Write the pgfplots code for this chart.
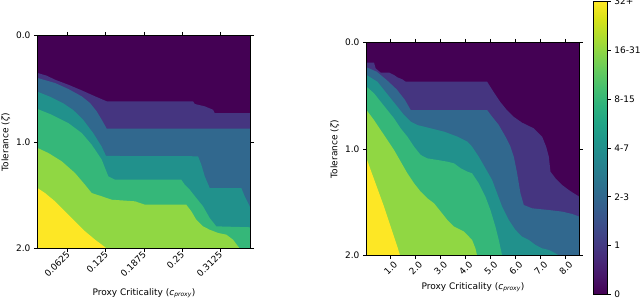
\documentclass[border=0pt]{standalone}
\usepackage{pgfplots}
\pgfplotsset{compat=1.18}
\usepackage{fontspec}
\setmainfont{DejaVu Sans}
\definecolor{lev0}{HTML}{440154}
\definecolor{lev1}{HTML}{453580}
\definecolor{lev2}{HTML}{31688E}
\definecolor{lev3}{HTML}{21918C}
\definecolor{lev4}{HTML}{35B779}
\definecolor{lev5}{HTML}{90D743}
\definecolor{lev6}{HTML}{FDE725}
\pgfplotsset{
  hm/.style={
    scale only axis, width=213pt, height=213pt,
    y dir=reverse, ymin=0, ymax=2,
    ytick={0,1,2}, yticklabels={0.0,1.0,2.0},
    tick align=outside, major tick length=3.5pt,
    tick style={black, line width=0.6pt},
    axis line style={line width=0.6pt},
    ticklabel style={font=\fontsize{9}{10}\selectfont},
    label style={font=\fontsize{9}{10}\selectfont},
    xticklabel style={rotate=45, anchor=east, inner sep=1pt},
    ylabel={Tolerance (\textit{ζ})},
    xlabel={Proxy Criticality (\textit{c}\textsubscript{\textit{proxy}})},
    axis background/.style={fill=lev0},
    axis on top,
    every axis plot/.append style={draw=none},
  }
}
\begin{document}
\begin{tikzpicture}
\path[use as bounding box] (0,0) rectangle (640pt,299pt);
% ---------------- left heatmap ----------------
\begin{axis}[hm, at={(37.5pt,50.5pt)}, anchor=south west,
  xmin=0.013, xmax=0.3625,
  xtick={0.0625,0.125,0.1875,0.25,0.3125},
  xticklabels={0.0625,0.125,0.1875,0.25,0.3125},
  xticklabel style={yshift=-1pt, xshift=1pt},
  xlabel style={at={(axis description cs:0.5,-0.209)}, anchor=center},
  ylabel style={at={(axis description cs:-0.148,0.5)}, anchor=center}]
\addplot[fill=lev1] coordinates {(0.013,0.352) (0.0281,0.377) (0.0417,0.415) (0.0635,0.462) (0.0855,0.515) (0.1074,0.571) (0.1266,0.618) (0.2682,0.618) (0.2710,0.643) (0.2874,0.665) (0.3010,0.697) (0.3038,0.728) (0.3625,0.728) (0.3625,2) (0.013,2)};
\addplot[fill=lev2] coordinates {(0.013,0.399) (0.0417,0.446) (0.0635,0.502) (0.0855,0.571) (0.0992,0.634) (0.1101,0.712) (0.1184,0.791) (0.1266,0.875) (0.3625,0.875) (0.3625,2) (0.013,2)};
\addplot[fill=lev3] coordinates {(0.013,0.528) (0.0335,0.575) (0.0553,0.637) (0.0717,0.700) (0.0882,0.793) (0.1046,0.918) (0.1184,1.044) (0.1254,1.131) (0.2764,1.134) (0.2818,1.213) (0.2874,1.322) (0.2956,1.432) (0.3474,1.432) (0.3530,1.510) (0.3625,1.620) (0.3625,2) (0.013,2)};
\addplot[fill=lev4] coordinates {(0.013,0.690) (0.0363,0.744) (0.0635,0.822) (0.0855,0.915) (0.1019,1.025) (0.1184,1.166) (0.1292,1.322) (0.1402,1.354) (0.2490,1.354) (0.2546,1.401) (0.2628,1.448) (0.2736,1.526) (0.2846,1.604) (0.2956,1.714) (0.3064,1.792) (0.3625,1.801) (0.3625,2) (0.013,2)};
\addplot[fill=lev5] coordinates {(0.013,1.056) (0.0307,1.103) (0.0527,1.181) (0.0745,1.291) (0.0909,1.401) (0.1019,1.479) (0.1184,1.510) (0.1348,1.542) (0.1730,1.557) (0.1894,1.589) (0.2572,1.589) (0.2654,1.651) (0.2736,1.730) (0.2846,1.792) (0.2956,1.824) (0.3092,1.854) (0.3228,1.870) (0.3338,1.917) (0.3420,1.979) (0.3448,2.0) (0.013,2)};
\addplot[fill=lev6] coordinates {(0.013,1.432) (0.0253,1.479) (0.0417,1.557) (0.0581,1.651) (0.0745,1.745) (0.0909,1.838) (0.1074,1.917) (0.1184,1.964) (0.1266,2.0) (0.013,2)};
\end{axis}
% ---------------- right heatmap ----------------
\begin{axis}[hm, at={(366.5pt,43.5pt)}, anchor=south west,
  xmin=0.06, xmax=8.56,
  xtick={1,2,3,4,5,6,7,8},
  xticklabels={1.0,2.0,3.0,4.0,5.0,6.0,7.0,8.0},
  xticklabel style={yshift=-7pt, xshift=2pt},
  xlabel style={at={(axis description cs:0.5,-0.148)}, anchor=center},
  ylabel style={at={(axis description cs:-0.148,0.5)}, anchor=center}]
\addplot[fill=lev1] coordinates {(0.06,0.189) (0.360,0.189) (0.426,0.243) (0.626,0.283) (0.959,0.283) (1.158,0.305) (1.291,0.327) (1.491,0.346) (1.624,0.368) (4.873,0.368) (5.126,0.462) (5.392,0.556) (5.658,0.634) (5.924,0.696) (6.270,0.753) (6.736,0.806) (7.069,0.884) (7.229,0.978) (7.336,1.072) (7.402,1.213) (7.602,1.275) (7.868,1.338) (8.134,1.385) (8.334,1.416) (8.56,1.448) (8.56,2) (0.06,2)};
\addplot[fill=lev2] coordinates {(0.06,0.233) (0.466,0.274) (0.865,0.352) (1.265,0.440) (1.598,0.540) (1.824,0.634) (4.873,0.634) (5.072,0.696) (5.339,0.775) (5.605,0.884) (5.805,0.978) (5.938,1.072) (6.071,1.228) (6.204,1.416) (6.337,1.526) (6.670,1.557) (7.336,1.573) (7.868,1.588) (8.268,1.610) (8.56,1.635) (8.56,2) (0.06,2)};
\addplot[fill=lev3] coordinates {(0.06,0.305) (0.493,0.368) (0.759,0.446) (1.025,0.524) (1.291,0.602) (1.558,0.681) (1.824,0.743) (2.090,0.775) (2.623,0.806) (3.155,0.837) (3.688,0.884) (4.087,0.931) (4.274,0.978) (4.540,1.072) (4.806,1.181) (5.072,1.291) (5.272,1.416) (5.472,1.541) (5.738,1.667) (6.004,1.760) (6.270,1.823) (6.537,1.854) (6.803,1.901) (7.069,1.933) (7.336,1.948) (7.602,1.980) (7.735,2.0) (0.06,2)};
\addplot[fill=lev4] coordinates {(0.06,0.415) (0.360,0.477) (0.626,0.556) (0.892,0.634) (1.158,0.712) (1.425,0.806) (1.691,0.884) (1.957,0.978) (2.223,1.056) (2.490,1.088) (2.889,1.103) (3.288,1.119) (3.555,1.135) (3.821,1.181) (4.087,1.213) (4.274,1.228) (4.540,1.322) (4.806,1.448) (5.006,1.573) (5.205,1.729) (5.339,1.854) (5.472,2.0) (0.06,2)};
\addplot[fill=lev5] coordinates {(0.06,0.634) (0.360,0.728) (0.626,0.822) (0.892,0.915) (1.158,1.009) (1.425,1.119) (1.691,1.228) (1.957,1.322) (2.223,1.401) (2.490,1.463) (2.756,1.510) (3.022,1.588) (3.288,1.667) (3.555,1.729) (3.954,1.776) (4.274,1.854) (4.407,1.933) (4.473,2.0) (0.06,2)};
\addplot[fill=lev6] coordinates {(0.06,1.088) (0.226,1.197) (0.493,1.369) (0.759,1.541) (1.025,1.729) (1.291,1.917) (1.398,2.0) (0.06,2)};
\end{axis}
% ---------------- colour bar ----------------
\begin{axis}[at={(593.3pt,4.7pt)}, anchor=south west,
  scale only axis, width=14pt, height=292.6pt,
  xmin=0, xmax=1, ymin=0, ymax=6,
  xtick=\empty, ytick={0,1,2,3,4,5,6},
  yticklabels={0,1,2-3,4-7,8-15,16-31,32+},
  ytick pos=right, yticklabel pos=right,
  tick align=outside, major tick length=3.5pt,
  tick style={black, line width=0.6pt},
  axis line style={line width=0.6pt},
  ticklabel style={font=\fontsize{9}{10}\selectfont},
  colormap/viridis, point meta min=0, point meta max=6,
  axis on top]
\addplot[surf, shader=interp, point meta=y] coordinates {(0,0) (1,0)

(0,6) (1,6)};
\end{axis}
\end{tikzpicture}
\end{document}
